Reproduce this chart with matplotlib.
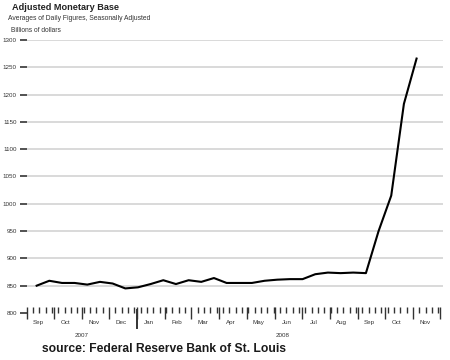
import pandas as pd
import matplotlib
matplotlib.use("Agg")
import matplotlib.pyplot as plt
import matplotlib.dates as mdates

plt.rcParams['font.family'] = ['Liberation Sans', 'DejaVu Sans']

# --- DATA: biweekly adjusted monetary base, billions of dollars ---
start_date = "2007-09-12"
n_points = 31
base_values = [850, 859, 855, 855, 852, 857, 854, 845, 847, 853,
               860, 853, 860, 857, 864, 855, 855, 855, 859, 861,
               862, 862, 871, 874, 873, 874, 873, 950, 1015, 1183, 1266]
y_ticks = [800, 850, 900, 950, 1000, 1050, 1100, 1150, 1200, 1250, 1300]
month_names = ["Sep", "Oct", "Nov", "Dec", "Jan", "Feb", "Mar", "Apr",
               "May", "Jun", "Jul", "Aug", "Sep", "Oct", "Nov"]
year_labels = ["2007", "2008"]

dates = pd.date_range(start_date, periods=n_points, freq="14D")

fig = plt.figure(figsize=(4.5, 3.6), dpi=100)
ax = fig.add_axes([0.0593, 0.1306, 0.9247, 0.7583])

# gridlines
for v in y_ticks[1:]:
    ax.axhline(v, color='#d9d9d9', lw=1.4, zorder=1)

ax.plot(dates, base_values, color='black', lw=1.5, zorder=3)

ax.set_ylim(800, 1300)
ax.set_xlim(pd.Timestamp("2007-09-01"), pd.Timestamp("2008-12-04"))

for s in ax.spines.values():
    s.set_visible(False)

ax.set_yticks(y_ticks)
ax.set_yticklabels([str(v) for v in y_ticks])
ax.tick_params(axis='y', length=5, width=1.2, color='#333333',
               labelsize=4.5, labelcolor='#333333', pad=2)

# x ticks: months major, weeks minor
ax.xaxis.set_major_locator(mdates.MonthLocator())
ax.xaxis.set_minor_locator(mdates.WeekdayLocator(byweekday=mdates.SA))
ax.xaxis.set_major_formatter(plt.NullFormatter())
ax.tick_params(axis='x', which='major', direction='inout', length=9,
               width=1.0, color='#333333')
ax.tick_params(axis='x', which='minor', direction='in', length=4,
               width=1.0, color='#333333')

# year boundary tick
ax.axvline(pd.Timestamp("2008-01-01"), ymin=-0.055, ymax=0.012,
           color='#333333', lw=1.4, clip_on=False)

# month labels at mid-month
month_starts = pd.date_range("2007-09-01", periods=len(month_names), freq="MS")
for m, name in zip(month_starts, month_names):
    ax.text(m + pd.Timedelta(days=13), -0.035, name, transform=ax.get_xaxis_transform(),
            ha='center', va='center', fontsize=4.5, color='#333333')

# year labels
ax.text(pd.Timestamp("2007-11-01"), -0.083, year_labels[0],
        transform=ax.get_xaxis_transform(), ha='center', va='center',
        fontsize=4.5, color='#333333')
ax.text(pd.Timestamp("2008-06-10"), -0.083, year_labels[1],
        transform=ax.get_xaxis_transform(), ha='center', va='center',
        fontsize=4.5, color='#333333')

# titles
fig.text(12 / 450, 1 - 7 / 360, "Adjusted Monetary Base", fontsize=6.6,
         fontweight='bold', color='#222222', va='center', ha='left')
fig.text(8 / 450, 1 - 18 / 360, "Averages of Daily Figures, Seasonally Adjusted",
         fontsize=4.9, color='#333333', va='center', ha='left')
fig.text(11 / 450, 1 - 30 / 360, "Billions of dollars", fontsize=4.8,
         color='#333333', va='center', ha='left')

# source
fig.text(42 / 450, 1 - 349 / 360, "source: Federal Reserve Bank of St. Louis",
         fontsize=8.7, fontweight='bold', color='#1a1a1a', va='center', ha='left')

fig.savefig("out.png", dpi=100)
